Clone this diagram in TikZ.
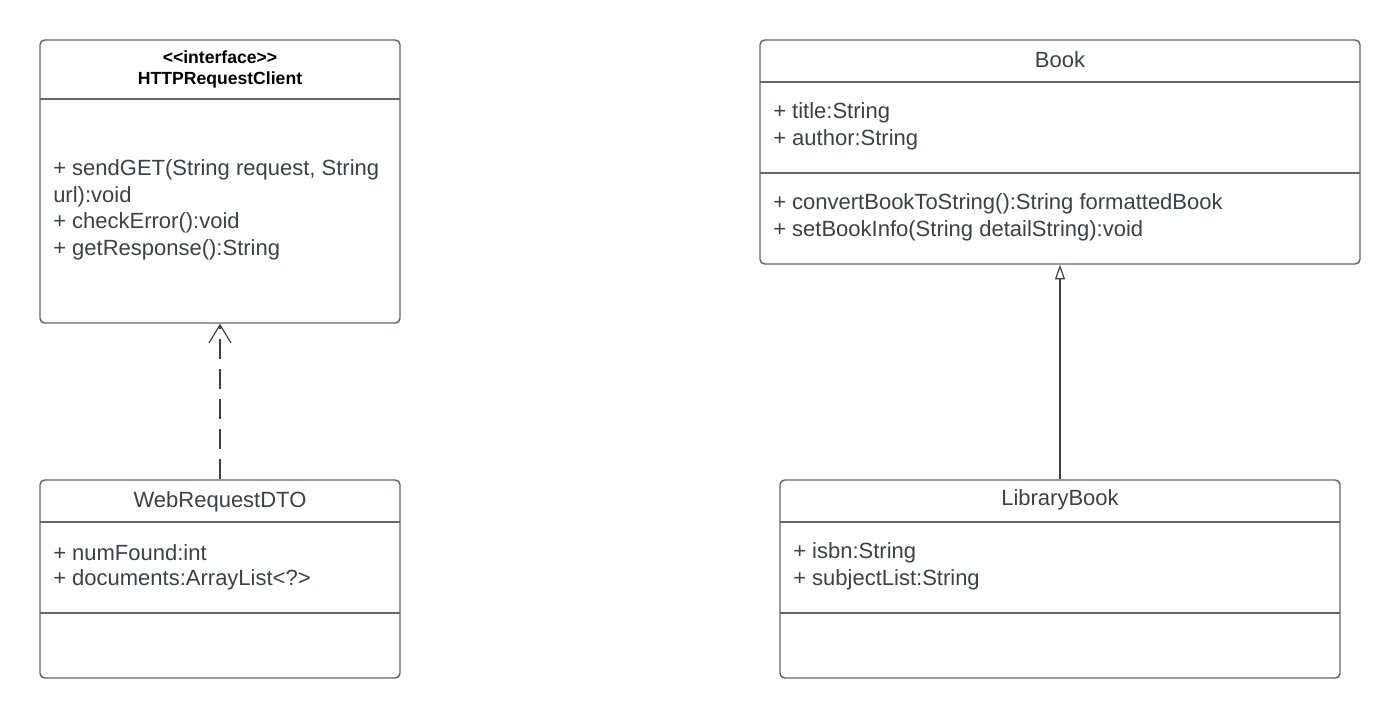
\documentclass[tikz,border=0pt]{standalone}
\usepackage{fontspec}
\setmainfont{Liberation Sans}[Ligatures=TeXOff]
\usetikzlibrary{arrows.meta}
\definecolor{txt}{HTML}{3A414A}
\definecolor{brd}{HTML}{62676D}
\begin{document}
\begin{tikzpicture}[x=0.75pt,y=-0.75pt,
  cls/.style={draw=brd,line width=1.1pt,rounded corners=3.5pt,inner sep=0pt,fill=white},
  mem/.style={anchor=west,inner sep=0pt,text=txt,font=\fontsize{16.5}{19}\selectfont},
  ttl/.style={inner sep=0pt,text=txt,font=\fontsize{16.5}{19}\selectfont},
  hdr/.style={inner sep=0pt,text=black,font=\bfseries\fontsize{13.2}{15}\selectfont},
  div/.style={draw=brd,line width=1.1pt},
  conn/.style={draw=txt,line width=0.9pt}]
\useasboundingbox (0,0) rectangle (1400,718);
% HTTPRequestClient
\node[cls,minimum width=360*0.75pt,minimum height=283*0.75pt] (http) at (220,181.5) {};
\node[hdr] (httpst) at (220,57.5) {<<interface>>};
\node[hdr] (httpnm) at (220,79.5) {HTTPRequestClient};
\draw[div] (40,99) -- (400,99);
\node[mem] (h1) at (53,170) {+ sendGET(String request, String};
\node[mem] (h2) at (53,196.5) {url):void};
\node[mem] (h3) at (53,223) {+ checkError():void};
\node[mem] (h4) at (53,249.5) {+ getResponse():String};
% WebRequestDTO
\node[cls,minimum width=360*0.75pt,minimum height=198*0.75pt] (web) at (220,579) {};
\node[ttl] (webnm) at (220,501.5) {WebRequestDTO};
\draw[div] (40,522) -- (400,522);
\draw[div] (40,613) -- (400,613);
\node[mem] (w1) at (53,553) {+ numFound:int};
\node[mem] (w2) at (53,580) {+ documents:ArrayList<?>};
% Book
\node[cls,minimum width=600*0.75pt,minimum height=224*0.75pt] (book) at (1060,152) {};
\node[ttl] (booknm) at (1060,59.5) {Book};
\draw[div] (760,82) -- (1360,82);
\draw[div] (760,173) -- (1360,173);
\node[mem] (b1) at (773,113) {+ title:String};
\node[mem] (b2) at (773,140) {+ author:String};
\node[mem] (b3) at (773,204) {+ convertBookToString():String formattedBook};
\node[mem] (b4) at (773,231) {+ setBookInfo(String detailString):void};
% LibraryBook
\node[cls,minimum width=560*0.75pt,minimum height=198*0.75pt] (lib) at (1060,579) {};
\node[ttl] (libnm) at (1060,499.5) {LibraryBook};
\draw[div] (780,522) -- (1340,522);
\draw[div] (780,613) -- (1340,613);
\node[mem] (l1) at (793,553) {+ isbn:String};
\node[mem] (l2) at (793,580) {+ subjectList:String};
% connectors
\draw[conn,dash pattern=on 15pt off 7.5pt,-{Straight Barb[length=13.5pt,width=16.5pt,line width=0.9pt]}] (web.north) -- (http.south);
\draw[conn,-{Triangle[open,length=11pt,width=7.5pt,fill=white,line width=0.9pt]}] (lib.north) -- (book.south);
\end{tikzpicture}
\end{document}
